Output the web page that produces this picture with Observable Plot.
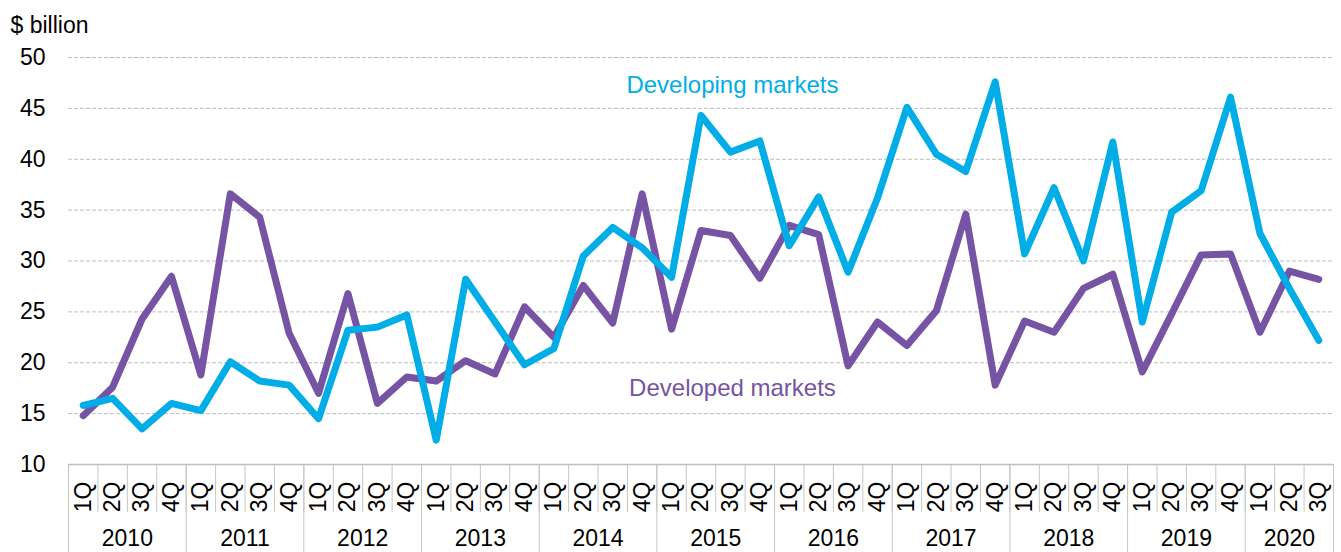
<!DOCTYPE html>
<html><head><meta charset="utf-8">
<script src="https://cdn.jsdelivr.net/npm/d3@7"></script>
<script src="https://cdn.jsdelivr.net/npm/@observablehq/plot@0.6"></script>
<style>body{margin:0;background:#fff}</style>
</head><body><div id="chart"></div>
<script>
const years = [2010, 2011, 2012, 2013, 2014, 2015, 2016, 2017, 2018, 2019, 2020];
const quarters = ["1Q", "2Q", "3Q", "4Q"];
const yTicks = [10, 15, 20, 25, 30, 35, 40, 45, 50];
const developed = [14.8, 17.6, 24.3, 28.5, 18.8, 36.6, 34.3, 22.9,
  17.0, 26.8, 16.0, 18.6, 18.2, 20.2, 18.9, 25.5,
  22.5, 27.6, 23.9, 36.6, 23.3, 33.0, 32.5, 28.3,
  33.5, 32.6, 19.7, 24.0, 21.7, 25.1, 34.6, 17.8,
  24.1, 23.0, 27.3, 28.7, 19.1, 24.8, 30.6, 30.7,
  23.0, 29.0, 28.2];
const developing = [15.8, 16.5, 13.5, 16.0, 15.3, 20.1, 18.2, 17.8,
  14.5, 23.2, 23.5, 24.7, 12.4, 28.2, 24.0, 19.8,
  21.4, 30.5, 33.3, 31.3, 28.4, 44.3, 40.7, 41.8,
  31.5, 36.3, 28.9, 36.2, 45.1, 40.5, 38.8, 47.6,
  30.7, 37.2, 30.0, 41.7, 24.0, 34.8, 36.9, 46.1,
  32.7, 27.3, 22.2];
const seriesNames = ["Developing markets", "Developed markets"];

const n = developed.length;
const periods = d3.range(n).map(i => ({i, year: years[Math.floor(i / 4)], q: quarters[i % 4]}));
const yearGroups = years.map(y => {
  const idx = periods.filter(p => p.year === y).map(p => p.i);
  return {year: y, start: idx[0], end: idx[idx.length - 1]};
});
const yearCenters = yearGroups.map(g => (g.start + g.end) / 2);
const yearBounds = yearGroups.map(g => g.start - 0.5).concat([n - 0.5]);
const qBounds = d3.range(n + 1).map(i => i - 0.5);

const cyan = "#00ADE6";
const purple = "#7653A3";
const font = "'Liberation Sans', Arial, sans-serif";

const chart = Plot.plot({
  width: 1341, height: 552,
  marginTop: 57, marginBottom: 88, marginLeft: 68, marginRight: 8,
  style: {fontFamily: font, fontSize: "23px", color: "#000", background: "#fff", overflow: "visible"},
  x: {type: "linear", domain: [-0.5, n - 0.5]},
  y: {domain: [10, 50]},
  marks: [
    Plot.ruleY(yTicks.slice(1), {stroke: "#bdbdbd", strokeWidth: 1, strokeDasharray: "4,2"}),
    Plot.axisY({ticks: yTicks, tickSize: 0, tickPadding: 23, label: null, fontSize: 23}),
    Plot.axisX({ticks: qBounds, tickSize: 48, tickFormat: () => "", stroke: "#c6c6c6", strokeOpacity: 1, label: null}),
    Plot.axisX({ticks: yearBounds, tickSize: 88, tickFormat: () => "", stroke: "#c6c6c6", strokeOpacity: 1, label: null}),
    Plot.axisX({ticks: d3.range(n), tickSize: 0, tickPadding: 17, tickRotate: -90,
      tickFormat: i => periods[i].q, fontSize: 23, label: null}),
    Plot.axisX({ticks: yearCenters, tickSize: 0, tickPadding: 65,
      tickFormat: c => String(yearGroups[yearCenters.indexOf(c)].year), fontSize: 23, label: null}),
    Plot.ruleY([10], {stroke: "#bfbfbf", strokeWidth: 1.5}),
    Plot.lineY(developed, {x: (d, i) => i, y: d => d, stroke: purple, strokeWidth: 7, strokeLinejoin: "round", strokeLinecap: "round"}),
    Plot.lineY(developing, {x: (d, i) => i, y: d => d, stroke: cyan, strokeWidth: 7, strokeLinejoin: "round", strokeLinecap: "round"}),
    Plot.text([seriesNames[0]], {x: 22.07, y: 47.3, text: d => d, fill: cyan, fontSize: 24, textAnchor: "middle", lineAnchor: "middle"}),
    Plot.text([seriesNames[1]], {x: 22.07, y: 17.5, text: d => d, fill: purple, fontSize: 24, textAnchor: "middle", lineAnchor: "middle"}),
    Plot.text(["$ billion"], {frameAnchor: "top-left", dx: -58, dy: -32, text: d => d, fontSize: 23, textAnchor: "start", lineAnchor: "middle"})
  ]
});
document.getElementById("chart").append(chart);
</script>
</body></html>
